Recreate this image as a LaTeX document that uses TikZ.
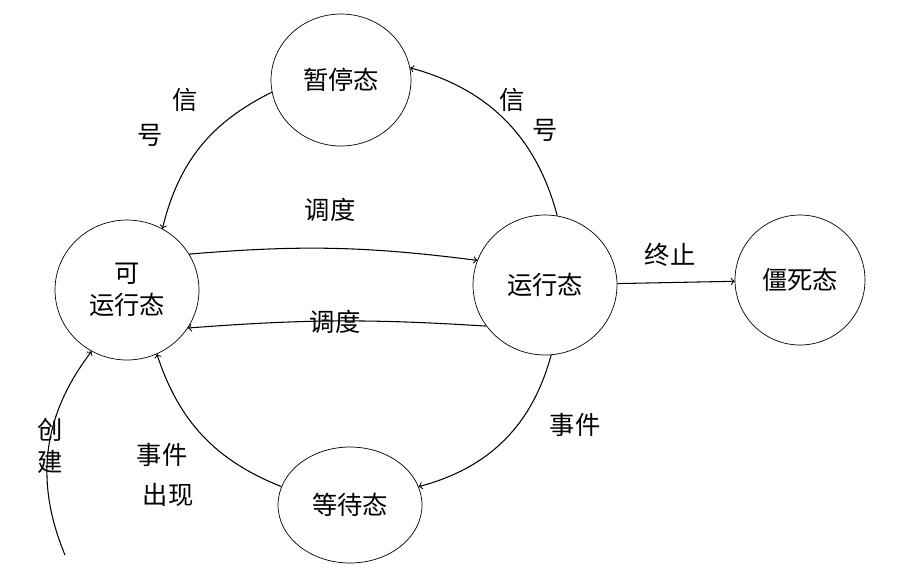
\documentclass[tikz,border=0pt]{standalone}
\usepackage{fontspec}
\setmainfont{Noto Sans CJK SC}
\usetikzlibrary{shapes.geometric}
\tikzset{
  state/.style={draw,ellipse,inner sep=0pt,font=\Large},
  flow/.style={->,semithick},
  lbl/.style={font=\Large}
}
\begin{document}
\begin{tikzpicture}[x=0.02cm,y=-0.02cm]
\useasboundingbox (0,0) rectangle (898,579);

\node[state,minimum width=2.8cm,minimum height=2.64cm] (pause) at (341,80) {暂停态};
\node[state,minimum width=2.88cm,minimum height=2.8cm,align=center] (ready) at (127,290) {可\\运行态};
\node[state,minimum width=2.88cm,minimum height=2.8cm] (run) at (545,285) {运行态};
\node[state,minimum width=2.6cm,minimum height=2.6cm] (dead) at (800,280) {僵死态};
\node[state,minimum width=2.88cm,minimum height=2.32cm] (wait) at (350,505) {等待态};
\coordinate (start) at (65,555);

\draw[flow] (pause.190) to[bend right=25] (ready.60);
\node[lbl] (s1) at (185,100) {信};
\node[lbl] (s2) at (150,135) {号};

\draw[flow] (run.80) to[bend right=30] (pause.10);
\node[lbl] (s3) at (512,100) {信};
\node[lbl] (s4) at (545,130) {号};

\draw[flow] (ready.30) to[bend left=6] (run.160);
\node[lbl] (d1) at (330,210) {调度};
\draw[flow] (run.215) to[bend right=4] (ready.328);
\node[lbl] (d2) at (335,322) {调度};

\draw[flow] (run) -- (dead);
\node[lbl] (t1) at (670,255) {终止};

\draw[flow] (run.275) to[bend left=30] (wait.15);
\node[lbl] (e1) at (575,425) {事件};
\draw[flow] (wait.165) to[bend left=25] (ready.295);
\node[lbl] (e2) at (162,455) {事件};
\node[lbl] (e3) at (168,495) {出现};

\draw[flow] (start) to[bend left=30] (ready.240);
\node[lbl] (c1) at (50,430) {创};
\node[lbl] (c2) at (50,462) {建};
\end{tikzpicture}
\end{document}
